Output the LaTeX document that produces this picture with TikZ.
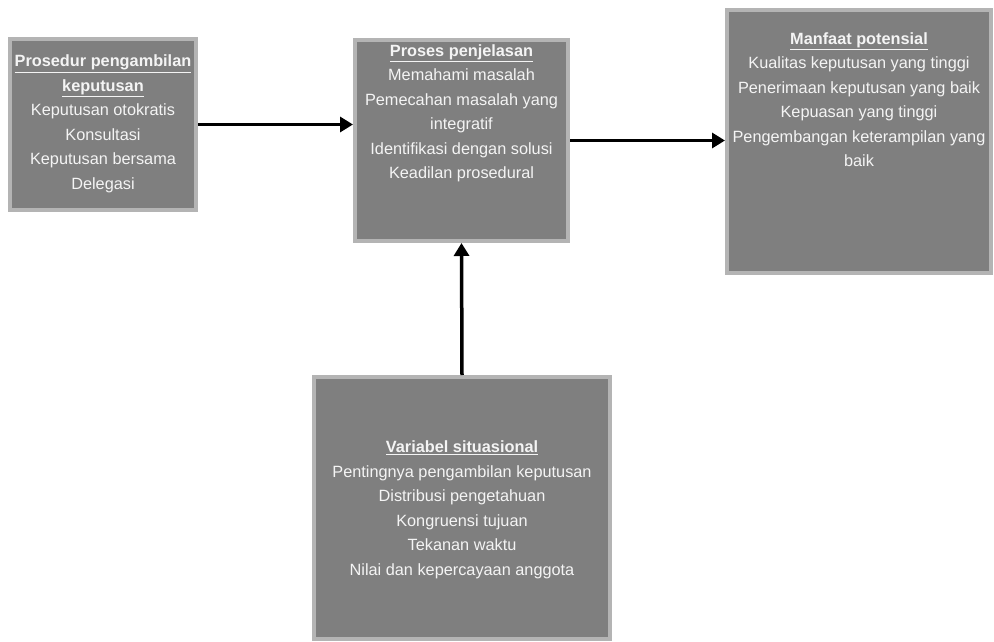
\documentclass[tikz,border=0pt]{standalone}
\usepackage{fontspec}
\setmainfont{Liberation Sans}
\usetikzlibrary{arrows.meta}
\definecolor{boxfill}{HTML}{7F7F7F}
\definecolor{boxedge}{HTML}{B4B4B4}
\definecolor{boxtext}{HTML}{F4F4F4}
\tikzset{
  panel/.style={draw=boxedge, line width=4pt, fill=boxfill, inner sep=0pt},
  paneltext/.style={text=boxtext, align=center, inner sep=0pt, font=\fontsize{16.3}{24.5}\selectfont},
  conn/.style={line width=3.5pt, -{Triangle[length=13pt,width=15pt]}}
}
\newcommand{\ttl}[1]{\underline{\textbf{#1}}}
\begin{document}
\begin{tikzpicture}[x=1pt,y=-1pt]
\useasboundingbox[fill=white] (0,0) rectangle (994,642);
% boxes
\node[panel, minimum width=186pt, minimum height=171pt] (b1) at (103,124.5) {};
\node[panel, minimum width=213pt, minimum height=201pt] (b2) at (461.5,140.5) {};
\node[panel, minimum width=264pt, minimum height=263pt] (b3) at (859,141.5) {};
\node[panel, minimum width=296pt, minimum height=262pt] (b4) at (462,508) {};
% texts
\node[paneltext] (t1) at (103,124) {\ttl{Prosedur pengambilan}\\\ttl{keputusan}\\Keputusan otokratis\\Konsultasi\\Keputusan bersama\\Delegasi};
\node[paneltext, anchor=north] (t2) at (461.5,44) {\ttl{Proses penjelasan}\\Memahami masalah\\Pemecahan masalah yang\\integratif\\Identifikasi dengan solusi\\Keadilan prosedural};
\node[paneltext, anchor=north] (t3) at (859,32) {\ttl{Manfaat potensial}\\Kualitas keputusan yang tinggi\\Penerimaan keputusan yang baik\\Kepuasan yang tinggi\\Pengembangan keterampilan yang\\baik};
\node[paneltext] (t4) at (462,510) {\ttl{Variabel situasional}\\Pentingnya pengambilan keputusan\\Distribusi pengetahuan\\Kongruensi tujuan\\Tekanan waktu\\Nilai dan kepercayaan anggota};
% connectors
\draw[conn] (b1.east) -- (b1.east -| b2.west);
\draw[conn] (b2.east) -- (b2.east -| b3.west);
\draw[conn] (b4.north) -- (b2.south);
\end{tikzpicture}
\end{document}
